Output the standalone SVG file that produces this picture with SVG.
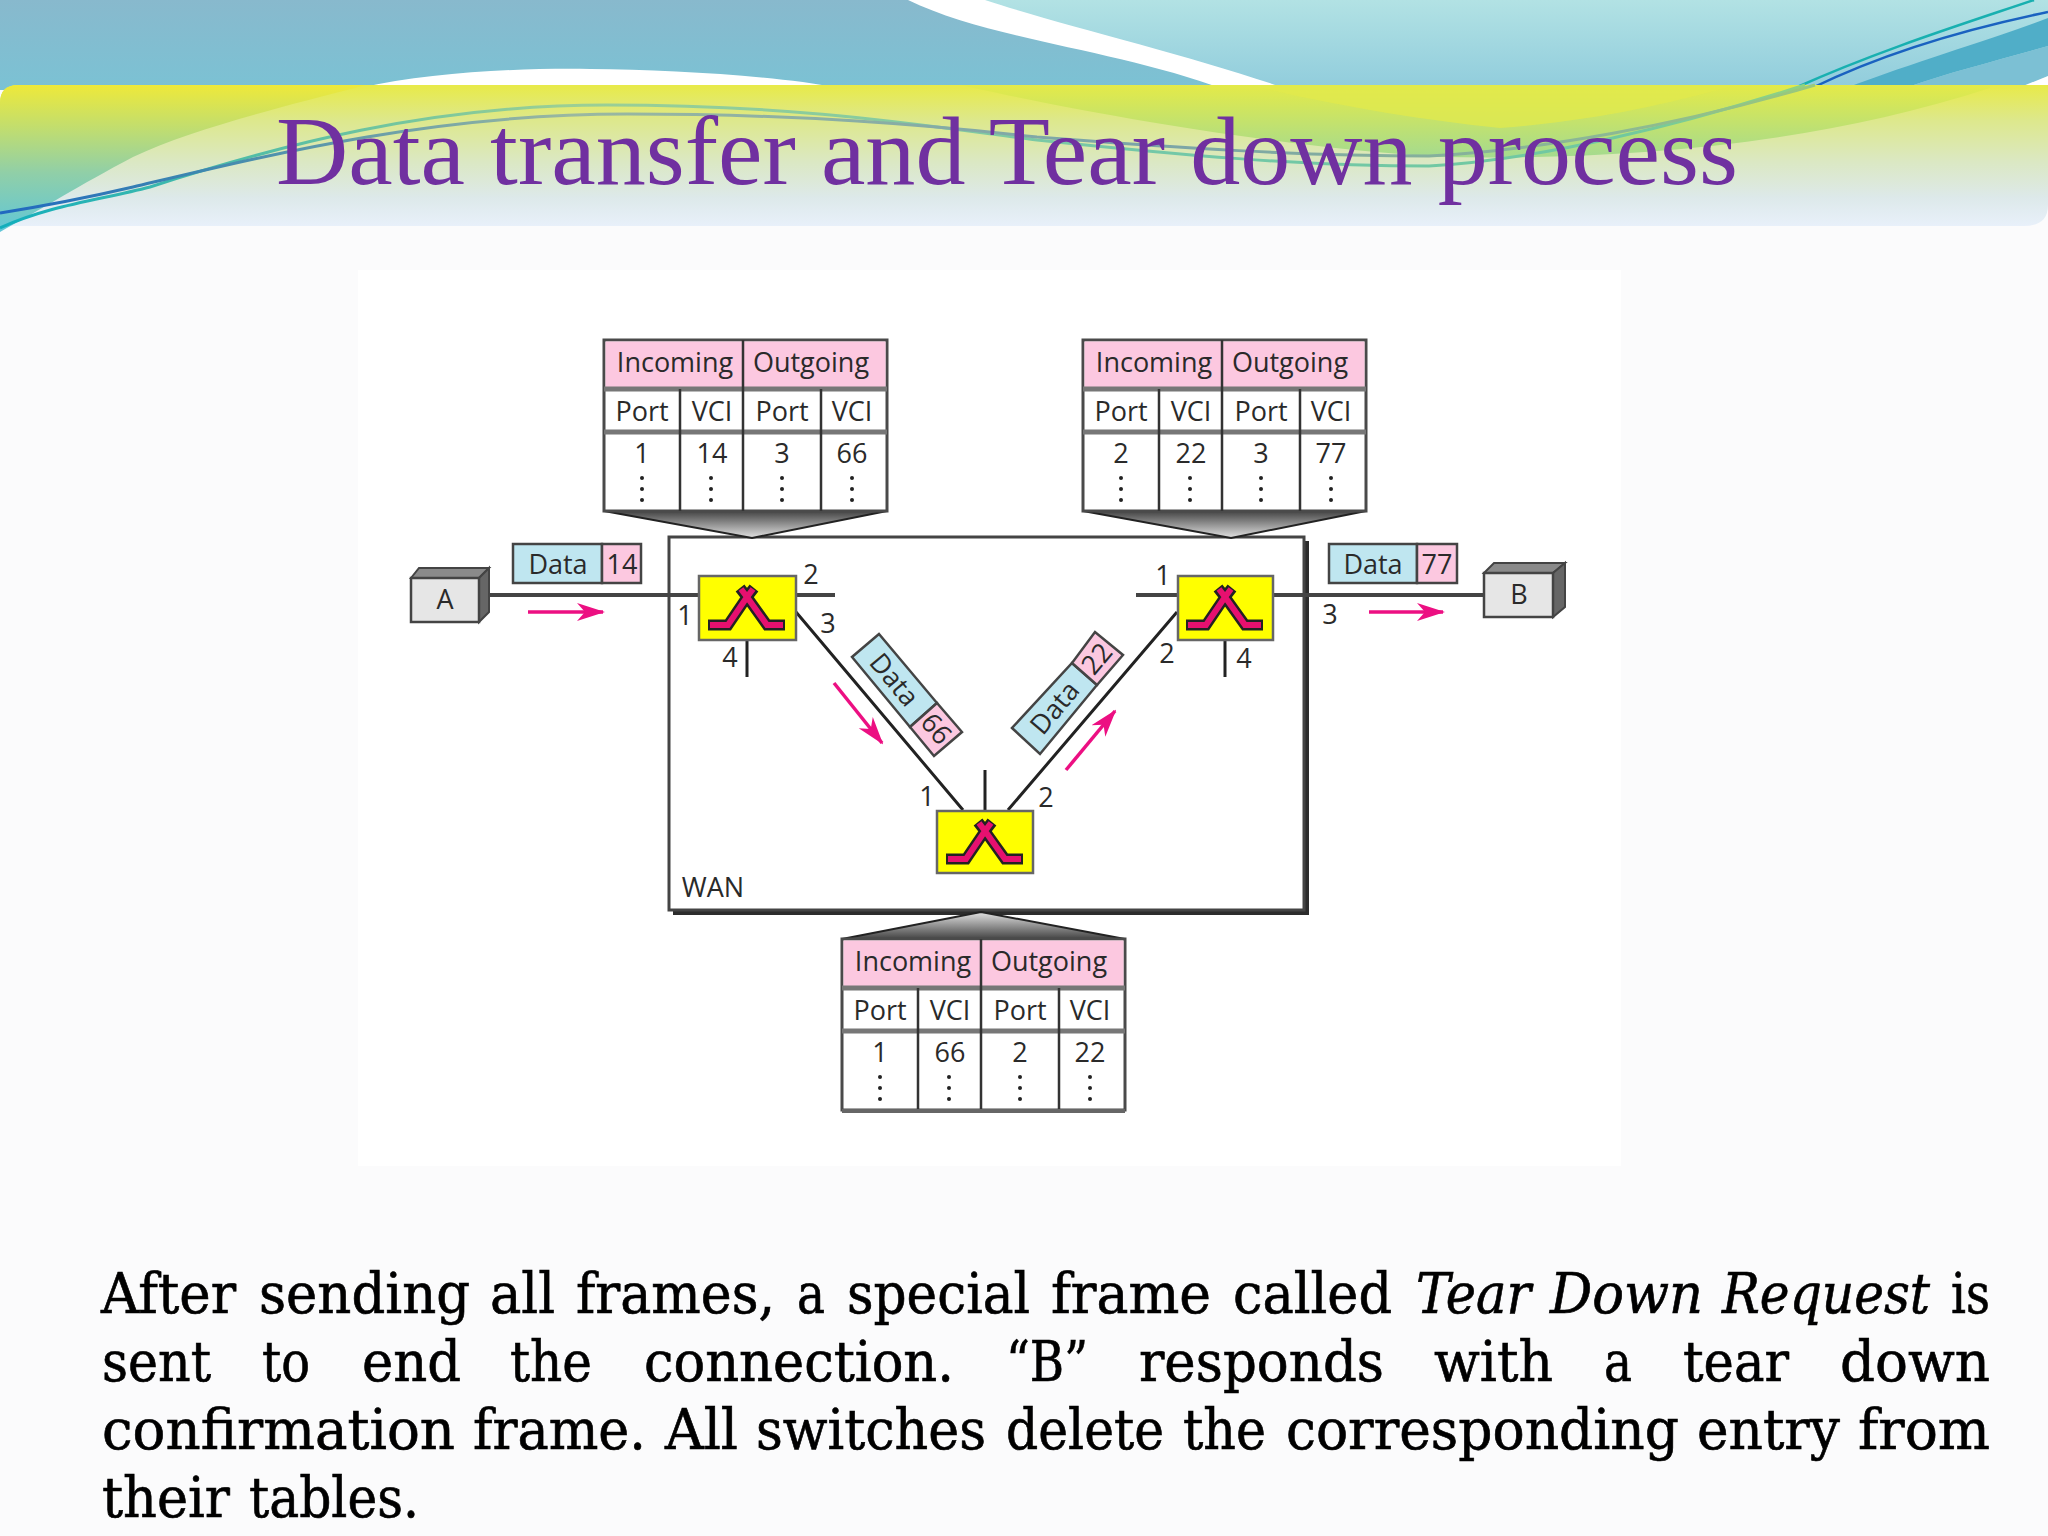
<svg xmlns="http://www.w3.org/2000/svg" xmlns:xlink="http://www.w3.org/1999/xlink" width="2048" height="1536" viewBox="0 0 2048 1536">
<style>
.t{font-family:"Open Sans","Noto Sans",sans-serif;font-size:27px;fill:#2a2a2a;text-anchor:middle}
.b{font-family:"DejaVu Serif",serif;font-stretch:condensed;font-size:56px;fill:#000;stroke:#000;stroke-width:.6}
.i{font-style:italic}
.title{font-family:"Liberation Serif",serif;font-size:98px;fill:#7030a0}
.frame{fill:#fff;stroke:#4a4a4a;stroke-width:3}
.hdr{fill:#fcc8e0}
.lbl{fill:#bfe6f0;stroke:#444;stroke-width:2.5}
.pk{fill:#fcc8e0;stroke:#444;stroke-width:2.5}
.rule{stroke:#777;stroke-width:5;fill:none}
.v{stroke:#333;stroke-width:2.5;fill:none}
.ln{stroke:#444;stroke-width:4;fill:none}
.dg{stroke:#222;stroke-width:3;fill:none}
.lt{stroke:#222;stroke-width:3;fill:none}
.ar{stroke:#ec0f82;stroke-width:3.5;fill:none;marker-end:url(#ah)}
.sw{fill:#ffff00;stroke:#666;stroke-width:2.5}
</style>
<defs>
<linearGradient id="gL" x1="0" y1="0" x2="0" y2="1"><stop offset="0" stop-color="#88b9cd"/><stop offset="1" stop-color="#7bc2d4"/></linearGradient>
<linearGradient id="gR" x1="0" y1="0" x2="0" y2="1"><stop offset="0" stop-color="#b2e2e4"/><stop offset="1" stop-color="#90ccdc"/></linearGradient>
<linearGradient id="gBand" x1="0" y1="85" x2="0" y2="226" gradientUnits="userSpaceOnUse"><stop offset="0" stop-color="#e8ea48"/><stop offset=".25" stop-color="#dde88c"/><stop offset=".55" stop-color="#dbe8c4"/><stop offset=".8" stop-color="#dde9ea"/><stop offset="1" stop-color="#e8f0fa"/></linearGradient>
<linearGradient id="gDark" x1="0" y1="85" x2="0" y2="232" gradientUnits="userSpaceOnUse"><stop offset="0" stop-color="#eee93a"/><stop offset=".3" stop-color="#c0dd70"/><stop offset=".6" stop-color="#90cfa8"/><stop offset="1" stop-color="#60c6d8"/></linearGradient>
<linearGradient id="gCres" x1="0" y1="85" x2="0" y2="160" gradientUnits="userSpaceOnUse"><stop offset="0" stop-color="#e4ea48"/><stop offset="1" stop-color="#a2da92"/></linearGradient>
<linearGradient id="gT" x1="0" y1="0" x2="1900" y2="0" gradientUnits="userSpaceOnUse"><stop offset="0" stop-color="#12aebc"/><stop offset=".12" stop-color="#4cbca8"/><stop offset=".3" stop-color="#9ccf94"/><stop offset=".6" stop-color="#74c8a8"/><stop offset=".85" stop-color="#70c8a0"/><stop offset="1" stop-color="#a0d870"/></linearGradient>
<linearGradient id="gB" x1="0" y1="0" x2="1900" y2="0" gradientUnits="userSpaceOnUse"><stop offset="0" stop-color="#2068c0"/><stop offset=".1" stop-color="#3c86b0"/><stop offset=".3" stop-color="#9ab8a0"/><stop offset=".6" stop-color="#7aa4a8"/><stop offset=".85" stop-color="#8cb894"/><stop offset="1" stop-color="#a0d070"/></linearGradient>
<linearGradient id="gF" x1="0" y1="0" x2="0" y2="1"><stop offset="0" stop-color="#444"/><stop offset="1" stop-color="#e2e2e2"/></linearGradient>
<linearGradient id="gF2" x1="0" y1="1" x2="0" y2="0"><stop offset="0" stop-color="#444"/><stop offset="1" stop-color="#e2e2e2"/></linearGradient>
<marker id="ah" markerUnits="userSpaceOnUse" markerWidth="28" markerHeight="20" viewBox="0 0 28 20" refX="26" refY="10" orient="auto"><path d="M0,1 L28,10 L0,19 L8,10 Z" fill="#ec0f82"/></marker>
<g id="dots"><circle cx="0" cy="0" r="2" fill="#222"/><circle cx="0" cy="11" r="2" fill="#222"/><circle cx="0" cy="22" r="2" fill="#222"/></g>
<g id="glyph">
<path d="M-39,17 H-19 L0,-11 L20,17 H38 M-7,-20 L0,-11 L7,-20" fill="none" stroke="#222" stroke-width="11"/>
<path d="M-37,17 H-19 L0,-11 L20,17 H36 M-6,-19 L0,-11 L6,-19" fill="none" stroke="#e6106f" stroke-width="6"/>
</g>
<g id="tbl">
<rect class="frame" x="0" y="0" width="283" height="171"/>
<rect class="hdr" x="1.5" y="1.5" width="280" height="47"/>
<path class="rule" d="M0,49 H283 M0,92 H283"/>
<path class="v" d="M139,0 V171 M76,49 V171 M217,49 V171"/>
<use xlink:href="#dots" href="#dots" x="38" y="138"/><use xlink:href="#dots" href="#dots" x="107" y="138"/><use xlink:href="#dots" href="#dots" x="178" y="138"/><use xlink:href="#dots" href="#dots" x="248" y="138"/>
</g>
</defs>

<rect width="2048" height="1536" fill="#fbfbfc"/>
<rect x="358" y="270" width="1263" height="896" fill="#ffffff"/>

<g id="background">
<rect x="0" y="0" width="2048" height="90" fill="url(#gL)"/>
<path d="M950,0 H2048 V90 H1240 C1180,60 1060,25 950,0 Z" fill="url(#gR)"/>
<path d="M908,0 H985 C1060,25 1190,55 1290,90 H1225 C1120,50 990,40 908,0 Z" fill="#ffffff"/>
<path d="M360,88 C430,72 520,68 590,69 C670,70 770,75 840,88 Z" fill="#ffffff"/>
<path d="M1846,88 C1920,60 1990,40 2048,18 V46 C2000,60 1950,72 1905,88 Z" fill="#50aec8"/>
<path d="M1905,88 C1950,72 2000,60 2048,46 V76 L2020,88 Z" fill="#7cc0d4"/>
<path d="M2018,88 L2048,76 V88 Z" fill="#ffffff"/>
<path d="M1795,88 C1880,50 1960,25 2034,0" fill="none" stroke="#18b0b0" stroke-width="2.5"/>
<path d="M1812,88 C1890,50 1970,28 2048,12" fill="none" stroke="#1a62c0" stroke-width="2.5"/>
</g>

<g id="title-band">
<path d="M0,232 V103 Q0,85 18,85 H2048 V205 Q2048,226 2024,226 H8 Z" fill="url(#gBand)"/>
<path d="M0,232 V103 Q0,85 18,85 H366 C270,110 190,130 133,157 C80,185 40,210 0,232 Z" fill="url(#gDark)"/>
<path d="M960,85 C1050,105 1250,145 1440,157 C1600,160 1800,150 1990,88 V85 Z" fill="url(#gCres)"/>
<path d="M1250,85 C1330,105 1420,120 1500,128 C1600,120 1660,105 1730,87 V85 Z" fill="#e2ea4c" opacity=".75"/>
<path d="M0,228 C50,205 100,200 150,187 C280,145 430,105 607,105 C800,105 920,125 1037,140 C1180,155 1300,166 1429,166 C1540,160 1680,125 1805,85" fill="none" stroke="url(#gT)" stroke-width="3"/>
<path d="M0,213 C50,205 90,197 133,187 C260,157 430,114 627,114 C800,114 930,125 1037,137 C1180,148 1300,156 1429,156 C1540,150 1680,125 1815,85" fill="none" stroke="url(#gB)" stroke-width="3"/>
<text class="title" x="276" y="184" textLength="1462" lengthAdjust="spacingAndGlyphs">Data transfer and Tear down process</text>
</g>

<g id="wan">
<rect x="673" y="541" width="636" height="374" fill="#2c2c2c"/>
<rect x="669" y="537" width="635" height="373" fill="#fff" stroke="#444" stroke-width="3"/>
<text class="t" x="713" y="897">WAN</text>
</g>

<g id="connectors">
<path class="ln" d="M483,595 H699 M796,595 H835 M1136,595 H1178 M1273,595 H1484"/>
<path class="lt" d="M747,640 V677 M1225,640 V677 M985,770 V811"/>
<path class="dg" d="M796,612 L963,810 M1177,612 L1008,810"/>
<path class="ar" d="M528,612 H603"/>
<path class="ar" d="M1369,612 H1443"/>
<path class="ar" d="M834,683 L882,743"/>
<path class="ar" d="M1066,770 L1115,711"/>
</g>

<g id="host-a">
<path d="M411,578 L419,568 H489 L479,578 Z" fill="#8a8a8a" stroke="#444" stroke-width="2"/>
<path d="M479,578 L489,568 V612 L479,622 Z" fill="#666" stroke="#444" stroke-width="2"/>
<rect x="411" y="578" width="68" height="44" fill="#e6e6e6" stroke="#444" stroke-width="2.5"/>
<text class="t" x="445" y="609">A</text>
</g>
<g id="host-b">
<path d="M1484,573 L1494,563 H1565 L1553,573 Z" fill="#8a8a8a" stroke="#444" stroke-width="2"/>
<path d="M1553,573 L1565,563 V607 L1553,617 Z" fill="#666" stroke="#444" stroke-width="2"/>
<rect x="1484" y="573" width="69" height="44" fill="#e6e6e6" stroke="#444" stroke-width="2.5"/>
<text class="t" x="1519" y="604">B</text>
</g>

<g id="frame-14">
<rect class="lbl" x="513" y="544" width="89" height="39"/><rect class="pk" x="602" y="544" width="39" height="39"/>
<text class="t" x="558" y="574">Data</text><text class="t" x="622" y="574">14</text>
</g>
<g id="frame-77">
<rect class="lbl" x="1329" y="544" width="88" height="39"/><rect class="pk" x="1417" y="544" width="40" height="39"/>
<text class="t" x="1373" y="574">Data</text><text class="t" x="1437" y="574">77</text>
</g>
<g id="frame-66">
<polygon class="lbl" points="879,634 852,657 910,727 937,703"/><polygon class="pk" points="937,703 910,727 934,756 962,732"/>
<text class="t" transform="translate(894,680) rotate(50)" y="9">Data</text>
<text class="t" transform="translate(936,729) rotate(50)" y="9">66</text>
</g>
<g id="frame-22">
<polygon class="lbl" points="1012,728 1040,754 1097,685 1072,663"/><polygon class="pk" points="1072,663 1097,685 1123,655 1095,632"/>
<text class="t" transform="translate(1055,708) rotate(-50)" y="9">Data</text>
<text class="t" transform="translate(1097,659) rotate(-50)" y="9">22</text>
</g>

<g id="switch-1">
<rect class="sw" x="699" y="576" width="97" height="64"/>
<use xlink:href="#glyph" href="#glyph" x="747" y="608"/>
<text class="t" x="811" y="584">2</text><text class="t" x="685" y="625">1</text><text class="t" x="828" y="633">3</text><text class="t" x="730" y="667">4</text>
</g>
<g id="switch-2">
<rect class="sw" x="1178" y="576" width="95" height="64"/>
<use xlink:href="#glyph" href="#glyph" x="1225" y="608"/>
<text class="t" x="1163" y="585">1</text><text class="t" x="1167" y="663">2</text><text class="t" x="1330" y="624">3</text><text class="t" x="1244" y="668">4</text>
</g>
<g id="switch-3">
<rect class="sw" x="937" y="811" width="96" height="62"/>
<use xlink:href="#glyph" href="#glyph" x="985" y="842"/>
<text class="t" x="927" y="806">1</text><text class="t" x="1046" y="807">2</text>
</g>

<g id="table-1" transform="translate(604,340)">
<polygon points="0,171 283,171 148,198" fill="url(#gF)" stroke="#222" stroke-width="2"/>
<use xlink:href="#tbl" href="#tbl"/>
<text class="t" x="71" y="32">Incoming</text><text class="t" x="207" y="32">Outgoing</text>
<text class="t" x="38" y="81">Port</text><text class="t" x="108" y="81">VCI</text><text class="t" x="178" y="81">Port</text><text class="t" x="248" y="81">VCI</text>
<text class="t" x="38" y="123">1</text><text class="t" x="108" y="123">14</text><text class="t" x="178" y="123">3</text><text class="t" x="248" y="123">66</text>
</g>
<g id="table-2" transform="translate(1083,340)">
<polygon points="0,171 283,171 148,198" fill="url(#gF)" stroke="#222" stroke-width="2"/>
<use xlink:href="#tbl" href="#tbl"/>
<text class="t" x="71" y="32">Incoming</text><text class="t" x="207" y="32">Outgoing</text>
<text class="t" x="38" y="81">Port</text><text class="t" x="108" y="81">VCI</text><text class="t" x="178" y="81">Port</text><text class="t" x="248" y="81">VCI</text>
<text class="t" x="38" y="123">2</text><text class="t" x="108" y="123">22</text><text class="t" x="178" y="123">3</text><text class="t" x="248" y="123">77</text>
</g>
<g id="table-3" transform="translate(842,939)">
<polygon points="0,0 283,0 139,-27" fill="url(#gF2)" stroke="#222" stroke-width="2"/>
<use xlink:href="#tbl" href="#tbl"/>
<path d="M0,172 H283" stroke="#666" stroke-width="4" fill="none"/>
<text class="t" x="71" y="32">Incoming</text><text class="t" x="207" y="32">Outgoing</text>
<text class="t" x="38" y="81">Port</text><text class="t" x="108" y="81">VCI</text><text class="t" x="178" y="81">Port</text><text class="t" x="248" y="81">VCI</text>
<text class="t" x="38" y="123">1</text><text class="t" x="108" y="123">66</text><text class="t" x="178" y="123">2</text><text class="t" x="248" y="123">22</text>
</g>

<g id="body-text">
<text class="b" x="101" y="1313" textLength="135" lengthAdjust="spacingAndGlyphs">After</text>
<text class="b" x="259" y="1313" textLength="211" lengthAdjust="spacingAndGlyphs">sending</text>
<text class="b" x="490" y="1313" textLength="65" lengthAdjust="spacingAndGlyphs">all</text>
<text class="b" x="576" y="1313" textLength="199" lengthAdjust="spacingAndGlyphs">frames,</text>
<text class="b" x="797" y="1313" textLength="28" lengthAdjust="spacingAndGlyphs">a</text>
<text class="b" x="847" y="1313" textLength="183" lengthAdjust="spacingAndGlyphs">special</text>
<text class="b" x="1051" y="1313" textLength="160" lengthAdjust="spacingAndGlyphs">frame</text>
<text class="b" x="1233" y="1313" textLength="159" lengthAdjust="spacingAndGlyphs">called</text>
<text class="b i" x="1416" y="1313" textLength="115" lengthAdjust="spacingAndGlyphs">Tear</text>
<text class="b i" x="1550" y="1313" textLength="153" lengthAdjust="spacingAndGlyphs">Down</text>
<text class="b i" x="1722" y="1313" textLength="208" lengthAdjust="spacingAndGlyphs">Request</text>
<text class="b" x="1951" y="1313" textLength="39" lengthAdjust="spacingAndGlyphs">is</text>

<text class="b" x="102" y="1381" textLength="109" lengthAdjust="spacingAndGlyphs">sent</text>
<text class="b" x="262" y="1381" textLength="48" lengthAdjust="spacingAndGlyphs">to</text>
<text class="b" x="362" y="1381" textLength="99" lengthAdjust="spacingAndGlyphs">end</text>
<text class="b" x="510" y="1381" textLength="82" lengthAdjust="spacingAndGlyphs">the</text>
<text class="b" x="644" y="1381" textLength="310" lengthAdjust="spacingAndGlyphs">connection.</text>
<text class="b" x="1006" y="1381" textLength="82" lengthAdjust="spacingAndGlyphs">“B”</text>
<text class="b" x="1139" y="1381" textLength="245" lengthAdjust="spacingAndGlyphs">responds</text>
<text class="b" x="1434" y="1381" textLength="119" lengthAdjust="spacingAndGlyphs">with</text>
<text class="b" x="1604" y="1381" textLength="28" lengthAdjust="spacingAndGlyphs">a</text>
<text class="b" x="1683" y="1381" textLength="106" lengthAdjust="spacingAndGlyphs">tear</text>
<text class="b" x="1840" y="1381" textLength="150" lengthAdjust="spacingAndGlyphs">down</text>

<text class="b" x="102" y="1449" textLength="353" lengthAdjust="spacingAndGlyphs">confirmation</text>
<text class="b" x="473" y="1449" textLength="173" lengthAdjust="spacingAndGlyphs">frame.</text>
<text class="b" x="665" y="1449" textLength="73" lengthAdjust="spacingAndGlyphs">All</text>
<text class="b" x="756" y="1449" textLength="230" lengthAdjust="spacingAndGlyphs">switches</text>
<text class="b" x="1006" y="1449" textLength="158" lengthAdjust="spacingAndGlyphs">delete</text>
<text class="b" x="1183" y="1449" textLength="83" lengthAdjust="spacingAndGlyphs">the</text>
<text class="b" x="1286" y="1449" textLength="393" lengthAdjust="spacingAndGlyphs">corresponding</text>
<text class="b" x="1697" y="1449" textLength="143" lengthAdjust="spacingAndGlyphs">entry</text>
<text class="b" x="1858" y="1449" textLength="132" lengthAdjust="spacingAndGlyphs">from</text>

<text class="b" x="102" y="1517" textLength="128" lengthAdjust="spacingAndGlyphs">their</text>
<text class="b" x="249" y="1517" textLength="170" lengthAdjust="spacingAndGlyphs">tables.</text>
</g>
</svg>
